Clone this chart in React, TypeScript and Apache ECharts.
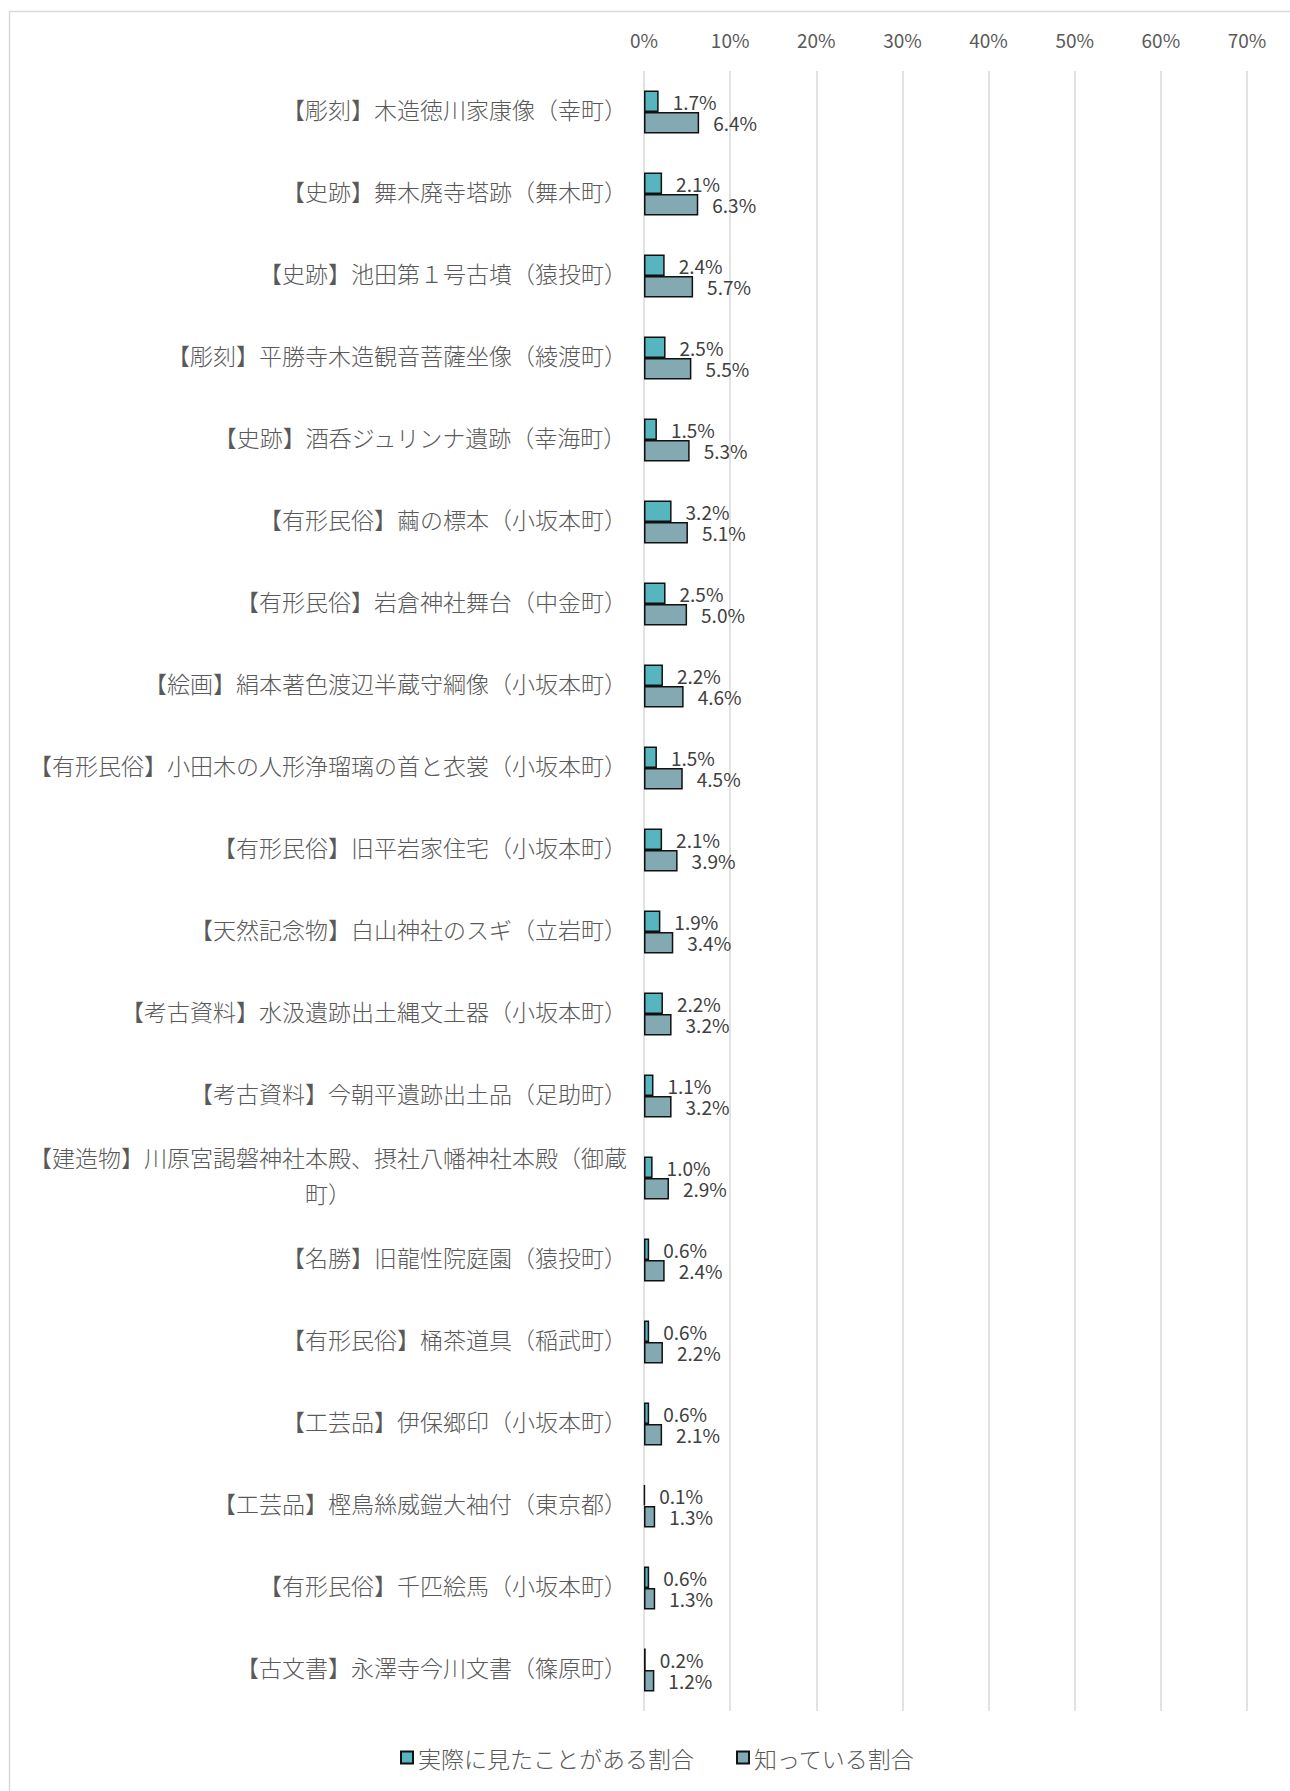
import React, { useEffect, useRef } from "react";
import * as echarts from "echarts";

const categories: string[] = [
  "【彫刻】木造徳川家康像（幸町）",
  "【史跡】舞木廃寺塔跡（舞木町）",
  "【史跡】池田第１号古墳（猿投町）",
  "【彫刻】平勝寺木造観音菩薩坐像（綾渡町）",
  "【史跡】酒呑ジュリンナ遺跡（幸海町）",
  "【有形民俗】繭の標本（小坂本町）",
  "【有形民俗】岩倉神社舞台（中金町）",
  "【絵画】絹本著色渡辺半蔵守綱像（小坂本町）",
  "【有形民俗】小田木の人形浄瑠璃の首と衣裳（小坂本町）",
  "【有形民俗】旧平岩家住宅（小坂本町）",
  "【天然記念物】白山神社のスギ（立岩町）",
  "【考古資料】水汲遺跡出土縄文土器（小坂本町）",
  "【考古資料】今朝平遺跡出土品（足助町）",
  "【建造物】川原宮謁磐神社本殿、摂社八幡神社本殿（御蔵町）",
  "【名勝】旧龍性院庭園（猿投町）",
  "【有形民俗】桶茶道具（稲武町）",
  "【工芸品】伊保郷印（小坂本町）",
  "【工芸品】樫鳥絲威鎧大袖付（東京都）",
  "【有形民俗】千匹絵馬（小坂本町）",
  "【古文書】永澤寺今川文書（篠原町）",
];

const seenValues: number[] = [1.7, 2.1, 2.4, 2.5, 1.5, 3.2, 2.5, 2.2, 1.5, 2.1, 1.9, 2.2, 1.1, 1.0, 0.6, 0.6, 0.6, 0.1, 0.6, 0.2];
const knownValues: number[] = [6.4, 6.3, 5.7, 5.5, 5.3, 5.1, 5.0, 4.6, 4.5, 3.9, 3.4, 3.2, 3.2, 2.9, 2.4, 2.2, 2.1, 1.3, 1.3, 1.2];

const seriesNames: string[] = ["実際に見たことがある割合", "知っている割合"];
const axisMax = 70;
const axisInterval = 10;

const FONT = "'Noto Sans CJK JP', 'Noto Sans', sans-serif";
const MAX_CHARS = 26;

export default function App() {
  const ref = useRef<HTMLDivElement>(null);
  useEffect(() => {
    if (!ref.current) return;
    const chart = echarts.init(ref.current, undefined, { renderer: "svg" });
    const labelStyle = {
      show: true,
      position: "right" as const,
      distance: 14,
      fontSize: 19,
      color: "#404040",
      fontFamily: FONT,
      formatter: (p: any) => Number(p.value).toFixed(1) + "%",
    };
    chart.setOption({
      animation: false,
      backgroundColor: "#ffffff",
      graphic: [
        {
          type: "rect",
          shape: { x: 9.5, y: 11.5, width: 1400, height: 1900 },
          style: { fill: "none", stroke: "#D9D9D9", lineWidth: 1.5 },
          silent: true,
        },
      ],
      grid: { left: 644, right: 43, top: 71, bottom: 80, containLabel: false },
      xAxis: {
        type: "value",
        position: "top",
        min: 0,
        max: axisMax,
        interval: axisInterval,
        axisLine: { show: false },
        axisTick: { show: false },
        splitLine: { show: true, lineStyle: { color: "#D9D9D9", width: 1.5 } },
        axisLabel: {
          formatter: "{value}%",
          fontSize: 19,
          color: "#595959",
          fontFamily: FONT,
          margin: 22,
        },
      },
      yAxis: {
        type: "category",
        data: categories,
        inverse: true,
        axisLine: { show: false },
        axisTick: { show: false },
        axisLabel: {
          margin: 17,
          color: "#595959",
          fontSize: 23,
          fontWeight: 300,
          fontFamily: FONT,
          padding: [0, 0, 7, 0],
          formatter: (v: string) => {
            const lines: string[] = [];
            for (let i = 0; i < v.length; i += MAX_CHARS) lines.push(v.slice(i, i + MAX_CHARS));
            return lines.map((l) => "{c|" + l + "}").join("\n");
          },
          rich: {
            c: { align: "center", fontSize: 23, fontWeight: 300, color: "#595959", fontFamily: FONT, lineHeight: 36 },
          },
        },
      },
      legend: {
        bottom: 17,
        left: 395,
        itemWidth: 12,
        itemHeight: 12,
        itemGap: 42,
        icon: "rect",
        textStyle: { fontSize: 23, fontWeight: 300, color: "#595959", fontFamily: FONT },
        data: seriesNames,
      },
      series: [
        {
          name: seriesNames[0],
          type: "bar",
          data: seenValues,
          barWidth: 21.5,
          barGap: "0%",
          itemStyle: { color: "#57B5C0", borderColor: "#111111", borderWidth: 1.5 },
          label: labelStyle,
        },
        {
          name: seriesNames[1],
          type: "bar",
          data: knownValues,
          barWidth: 21.5,
          barGap: "0%",
          itemStyle: { color: "#83A9B3", borderColor: "#111111", borderWidth: 1.5 },
          label: labelStyle,
        },
      ],
    });
    return () => chart.dispose();
  }, []);
  return (
    <div
      ref={ref}
      style={{ position: "absolute", left: 0, top: 0, width: 1290, height: 1791, background: "#fff" }}
    />
  );
}
